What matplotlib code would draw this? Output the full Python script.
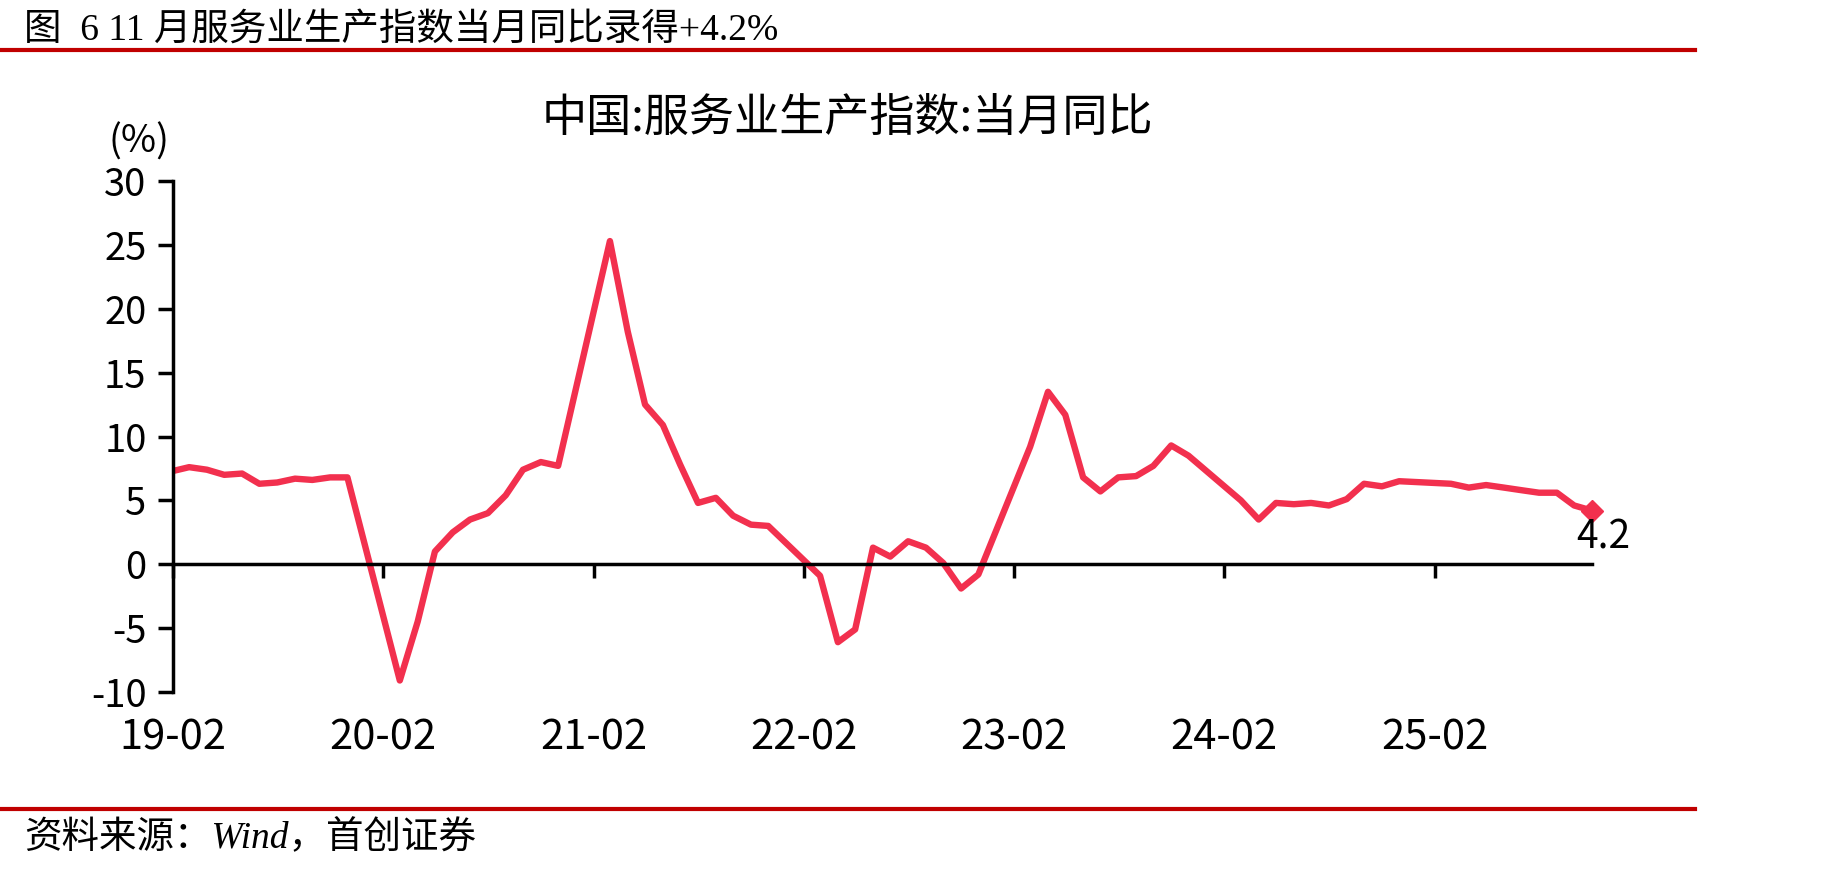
import datetime as dt

import matplotlib
matplotlib.use('Agg')
import matplotlib.pyplot as plt
import matplotlib.dates as mdates
from matplotlib.lines import Line2D

plt.rcParams['font.family'] = ['Noto Sans CJK SC', 'DejaVu Sans']
plt.rcParams['axes.unicode_minus'] = False

# 中国:服务业生产指数:当月同比 (%), 1-2月无单月值
months = ['2019-02', '2019-03', '2019-04', '2019-05', '2019-06', '2019-07', '2019-08',
          '2019-09', '2019-10', '2019-11', '2019-12',
          '2020-03', '2020-04', '2020-05', '2020-06', '2020-07', '2020-08', '2020-09',
          '2020-10', '2020-11', '2020-12',
          '2021-03', '2021-04', '2021-05', '2021-06', '2021-07', '2021-08', '2021-09',
          '2021-10', '2021-11', '2021-12',
          '2022-03', '2022-04', '2022-05', '2022-06', '2022-07', '2022-08', '2022-09',
          '2022-10', '2022-11', '2022-12',
          '2023-03', '2023-04', '2023-05', '2023-06', '2023-07', '2023-08', '2023-09',
          '2023-10', '2023-11', '2023-12',
          '2024-03', '2024-04', '2024-05', '2024-06', '2024-07', '2024-08', '2024-09',
          '2024-10', '2024-11', '2024-12',
          '2025-03', '2025-04', '2025-05', '2025-06', '2025-07', '2025-08', '2025-09',
          '2025-10', '2025-11']
values = [7.3, 7.6, 7.4, 7.0, 7.1, 6.3, 6.4, 6.7, 6.6, 6.8, 6.8,
          -9.1, -4.5, 1.0, 2.5, 3.5, 4.0, 5.4, 7.4, 8.0, 7.7,
          25.3, 18.2, 12.5, 10.9, 7.8, 4.8, 5.2, 3.8, 3.1, 3.0,
          -0.9, -6.1, -5.1, 1.3, 0.6, 1.8, 1.3, 0.1, -1.9, -0.8,
          9.2, 13.5, 11.7, 6.8, 5.7, 6.8, 6.9, 7.7, 9.3, 8.5,
          5.0, 3.5, 4.8, 4.7, 4.8, 4.6, 5.1, 6.3, 6.1, 6.5,
          6.3, 6.0, 6.2, 6.0, 5.8, 5.6, 5.6, 4.6, 4.2]
yticks = [-10, -5, 0, 5, 10, 15, 20, 25, 30]

title = '中国:服务业生产指数:当月同比'
header = '图  6 11 月服务业生产指数当月同比录得+4.2%'
source = '资料来源：Wind，首创证券'

red = '#F2304E'
x = mdates.date2num([dt.datetime.strptime(m, '%Y-%m') for m in months])

fig = plt.figure(figsize=(18.3, 8.72), dpi=100)
ax = fig.add_axes([173 / 1830, 1 - 692 / 872, (1592 - 173) / 1830, (692 - 181) / 872])

ax.plot(x, values, color=red, lw=4.6)
ax.plot(x[-1], values[-1], marker='D', ms=11, color=red, clip_on=False)
ax.annotate(f'{values[-1]:.1f}', (x[-1], values[-1]), xytext=(8, -5),
            textcoords='offset points', ha='center', va='top', fontsize=28)

ax.set_xlim(x[0], x[-1])
ax.set_ylim(-10, 30)
ax.set_yticks(yticks)

for s in ['top', 'right']:
    ax.spines[s].set_visible(False)
ax.spines['left'].set_linewidth(2.5)
ax.spines['bottom'].set_linewidth(2.5)
ax.spines['bottom'].set_position(('data', 0))

ax.tick_params(axis='y', length=11, width=2.5, pad=8, labelsize=27.5)
ax.xaxis.set_major_locator(mdates.MonthLocator(bymonth=2))
ax.tick_params(axis='x', length=10, width=2.5, labelbottom=False)

sec = ax.secondary_xaxis('bottom')
sec.spines['bottom'].set_visible(False)
sec.xaxis.set_major_locator(mdates.MonthLocator(bymonth=2))
sec.xaxis.set_major_formatter(mdates.DateFormatter('%y-%m'))
sec.tick_params(length=0, pad=18, labelsize=30)

fig.text(139 / 1830, 1 - 142 / 872, '(%)', ha='center', va='center', fontsize=27.5)
fig.text(847 / 1830, 1 - 118 / 872, title, ha='center', va='center', fontsize=32.5)

fig.text(24 / 1830, 1 - 30 / 872, header, va='center', fontsize=27,
         family=['Liberation Serif', 'Noto Sans CJK SC'])
fig.add_artist(Line2D([0, 1695 / 1830], [1 - 50 / 872] * 2, transform=fig.transFigure,
                      color='#C00000', lw=3))
fig.add_artist(Line2D([0, 1695 / 1830], [1 - 809 / 872] * 2, transform=fig.transFigure,
                      color='#C00000', lw=3))
fig.text(24 / 1830, 1 - 838 / 872, source, va='center', fontsize=27, style='italic',
         family=['Liberation Serif', 'Noto Sans CJK SC'])

fig.savefig('out.png', dpi=100)
